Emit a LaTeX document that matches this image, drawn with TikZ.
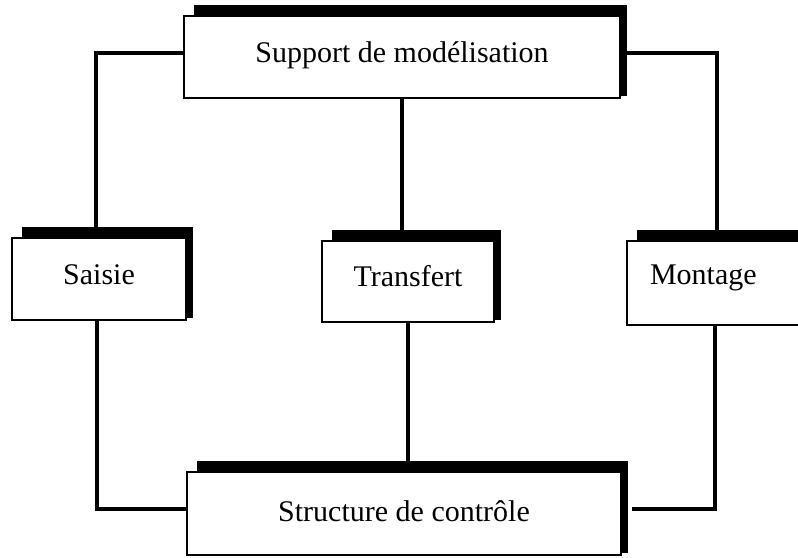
\documentclass[tikz,border=0pt]{standalone}
\usepackage{fontspec}
\setmainfont{Liberation Serif}
\usetikzlibrary{calc,backgrounds}
\tikzset{
  box/.style={draw=black, fill=white, line width=1.3pt, inner sep=0pt,
    text height=20pt, text depth=10pt,
    font=\fontsize{30}{36}\selectfont},
  conn/.style={draw=black, line width=3.6pt, line cap=rect},
  boxshadow/.style={fill=black}
}
\newcommand{\dropshadow}[1]{%
  \fill[boxshadow] ($(#1.north west)+(11,-10)$) rectangle ($(#1.south east)+(6.5,-3)$);}
\begin{document}
\begin{tikzpicture}[x=1pt,y=-1pt]
\useasboundingbox (0,0) rectangle (798,557);

% boxes
\node[box, minimum width=436, minimum height=82] (sup) at (402,57) {Support de modélisation};
\node[box, minimum width=174, minimum height=82] (sai) at (99,279) {Saisie};
\node[box, minimum width=172, minimum height=81] (tra) at (408,281.5) {Transfert};
\node[box, minimum width=203, minimum height=84, text width=157, inner xsep=23, align=left] (mon) at (728.5,283) {\raisebox{4pt}{Montage}};
\node[box, minimum width=434, minimum height=83, text depth=4pt] (str) at (404,513.5) {Structure de contrôle};

% thick drop shadows behind the boxes
\begin{scope}[on background layer]
  \dropshadow{sup}
  \dropshadow{sai}
  \dropshadow{tra}
  \dropshadow{mon}
  \dropshadow{str}
\end{scope}

% connectors
\begin{scope}[on background layer]
  \draw[conn] ([yshift=4pt]sup.west) -| ([xshift=-3pt]sai.north);
  \draw[conn] ([yshift=4pt]sup.east) -| ([xshift=-11.5pt]mon.north);
  \draw[conn] (sup.south) -- (sup.south |- tra.north);
  \draw[conn] ([xshift=-2pt]sai.south) |- ([yshift=4.5pt]str.west);
  \draw[conn] (tra.south) -- (tra.south |- str.north);
  \draw[conn] ([xshift=-13.5pt]mon.south) |- ([yshift=4.5pt,xshift=12pt]str.east);
\end{scope}
\end{tikzpicture}
\end{document}
